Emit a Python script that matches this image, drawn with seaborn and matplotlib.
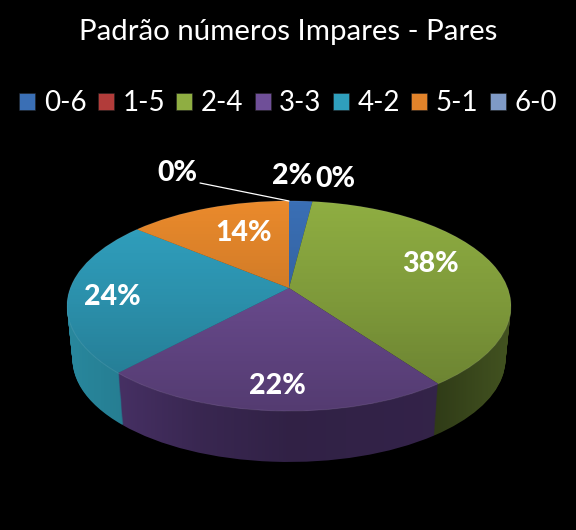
import numpy as np
import matplotlib
matplotlib.use('Agg')
import matplotlib.pyplot as plt
from matplotlib.patches import Patch, Circle
from matplotlib.path import Path
from matplotlib.transforms import Transform
import seaborn as sns

title = 'Padrão números Impares - Pares'
categories = ['0-6', '1-5', '2-4', '3-3', '4-2', '5-1', '6-0']
percent = [2, 0, 38, 22, 24, 14, 0]

top_colors = ['#3a6fb5', '#b23c3a', '#8fae42', '#74529c', '#31a3c2', '#ea8a2c', '#8ea6cf']
side_colors = ['#24477a', '#7a2826', '#4a5c24', '#4f3670', '#2b8fa6', '#a85f1a', '#5f7396']
legend_colors = ['#3a6fb5', '#b23c3a', '#8fae42', '#6f4f98', '#2f9fbd', '#e2832a', '#7f9ac6']

# label anchors in picture pixels, same order as percent, plus the leader line
label_xy = [(292, 176), (335, 179), (430, 264), (277, 386), (112, 297), (244, 233), (177, 173)]
leader_x = [200, 289]
leader_y = [183, 201]


class Perspective(Transform):
    # tilted disc seen from above, unit circle to picture pixels
    input_dims = 2
    output_dims = 2

    def __init__(self, drop=0.0, shrink=1.0):
        super().__init__()
        self.drop = drop
        self.shrink = shrink

    def transform_non_affine(self, values):
        values = np.asarray(values, dtype=float)
        w = 1 + 0.171 * values[:, 1]
        px = 289 + 218.7 * self.shrink * values[:, 0] / w
        py = 288 + self.drop - 102 * self.shrink * values[:, 1] / w
        return np.column_stack([px, py])

    def transform_path_non_affine(self, path):
        return Path(self.transform_non_affine(path.vertices), path.codes)


sns.set_theme(style='dark', rc={'figure.facecolor': 'black', 'axes.facecolor': 'black'})
plt.rcParams['font.family'] = ['Lato', 'DejaVu Sans']

fig = plt.figure(figsize=(5.76, 5.30), dpi=100)
ax = fig.add_axes([0, 0, 1, 1])

# side wall: stacked pies from the bottom rim up
depth = 54
for d in range(depth, 0, -1):
    wedges, _ = ax.pie(percent, colors=side_colors, startangle=90, counterclock=False)
    for w in wedges:
        w.set_transform(Perspective(d, 1 - 0.025 * d / depth) + ax.transData)
        w.set_linewidth(0)

# side shading goes left to right, black over black is invisible
xs = np.arange(576)
shade = np.zeros((1, 576, 4))
shade[..., 3] = np.interp(xs, [66, 120, 200, 289, 437, 480, 511], [0.05, 0.12, 0.28, 0.38, 0.35, 0.2, 0.1])
ax.imshow(shade, extent=(0, 576, 530, 0), zorder=1.5, aspect='auto')

top_wedges, _ = ax.pie(percent, colors=top_colors, startangle=90, counterclock=False)
for w in top_wedges:
    w.set_transform(Perspective() + ax.transData)
    w.set_linewidth(0)
    w.set_zorder(2)

# top face darkens towards the front
disc = Circle((0, 0), 1, transform=Perspective() + ax.transData, facecolor='none', edgecolor='none')
ax.add_patch(disc)
ramp = np.zeros((530, 1, 4))
ramp[:, 0, 3] = np.interp(np.arange(530), [201, 300, 411], [0.0, 0.12, 0.28])
im = ax.imshow(ramp, extent=(0, 576, 530, 0), zorder=2.5, aspect='auto')
im.set_clip_path(disc)

rim = Circle((0, 0), 1, transform=Perspective() + ax.transData, facecolor='none',
             edgecolor='white', alpha=0.08, linewidth=0.8, zorder=2.6)
ax.add_patch(rim)

ax.set_xlim(0, 576)
ax.set_ylim(530, 0)
ax.set_aspect('auto')
ax.axis('off')

ax.plot(leader_x, leader_y, color='white', lw=0.9, zorder=3)
for value, (x, y) in zip(percent, label_xy):
    ax.text(x, y, f'{value}%', color='white', fontsize=20.5, fontweight='black',
            ha='center', va='center', zorder=4)

ax.text(288, 32, title, color='white', fontsize=21.2, ha='center', va='center')

handles = [Patch(facecolor=c, edgecolor='#222222', linewidth=0.4) for c in legend_colors]
ax.legend(handles, categories, loc='center', bbox_to_anchor=(0.5, 1 - 103 / 530), ncol=7,
          frameon=False, fontsize=20, labelcolor='white', handlelength=0.58, handleheight=0.58,
          handletextpad=0.3, columnspacing=0.41, borderpad=0, borderaxespad=0)

fig.savefig('out.png', dpi=100, facecolor='black')
